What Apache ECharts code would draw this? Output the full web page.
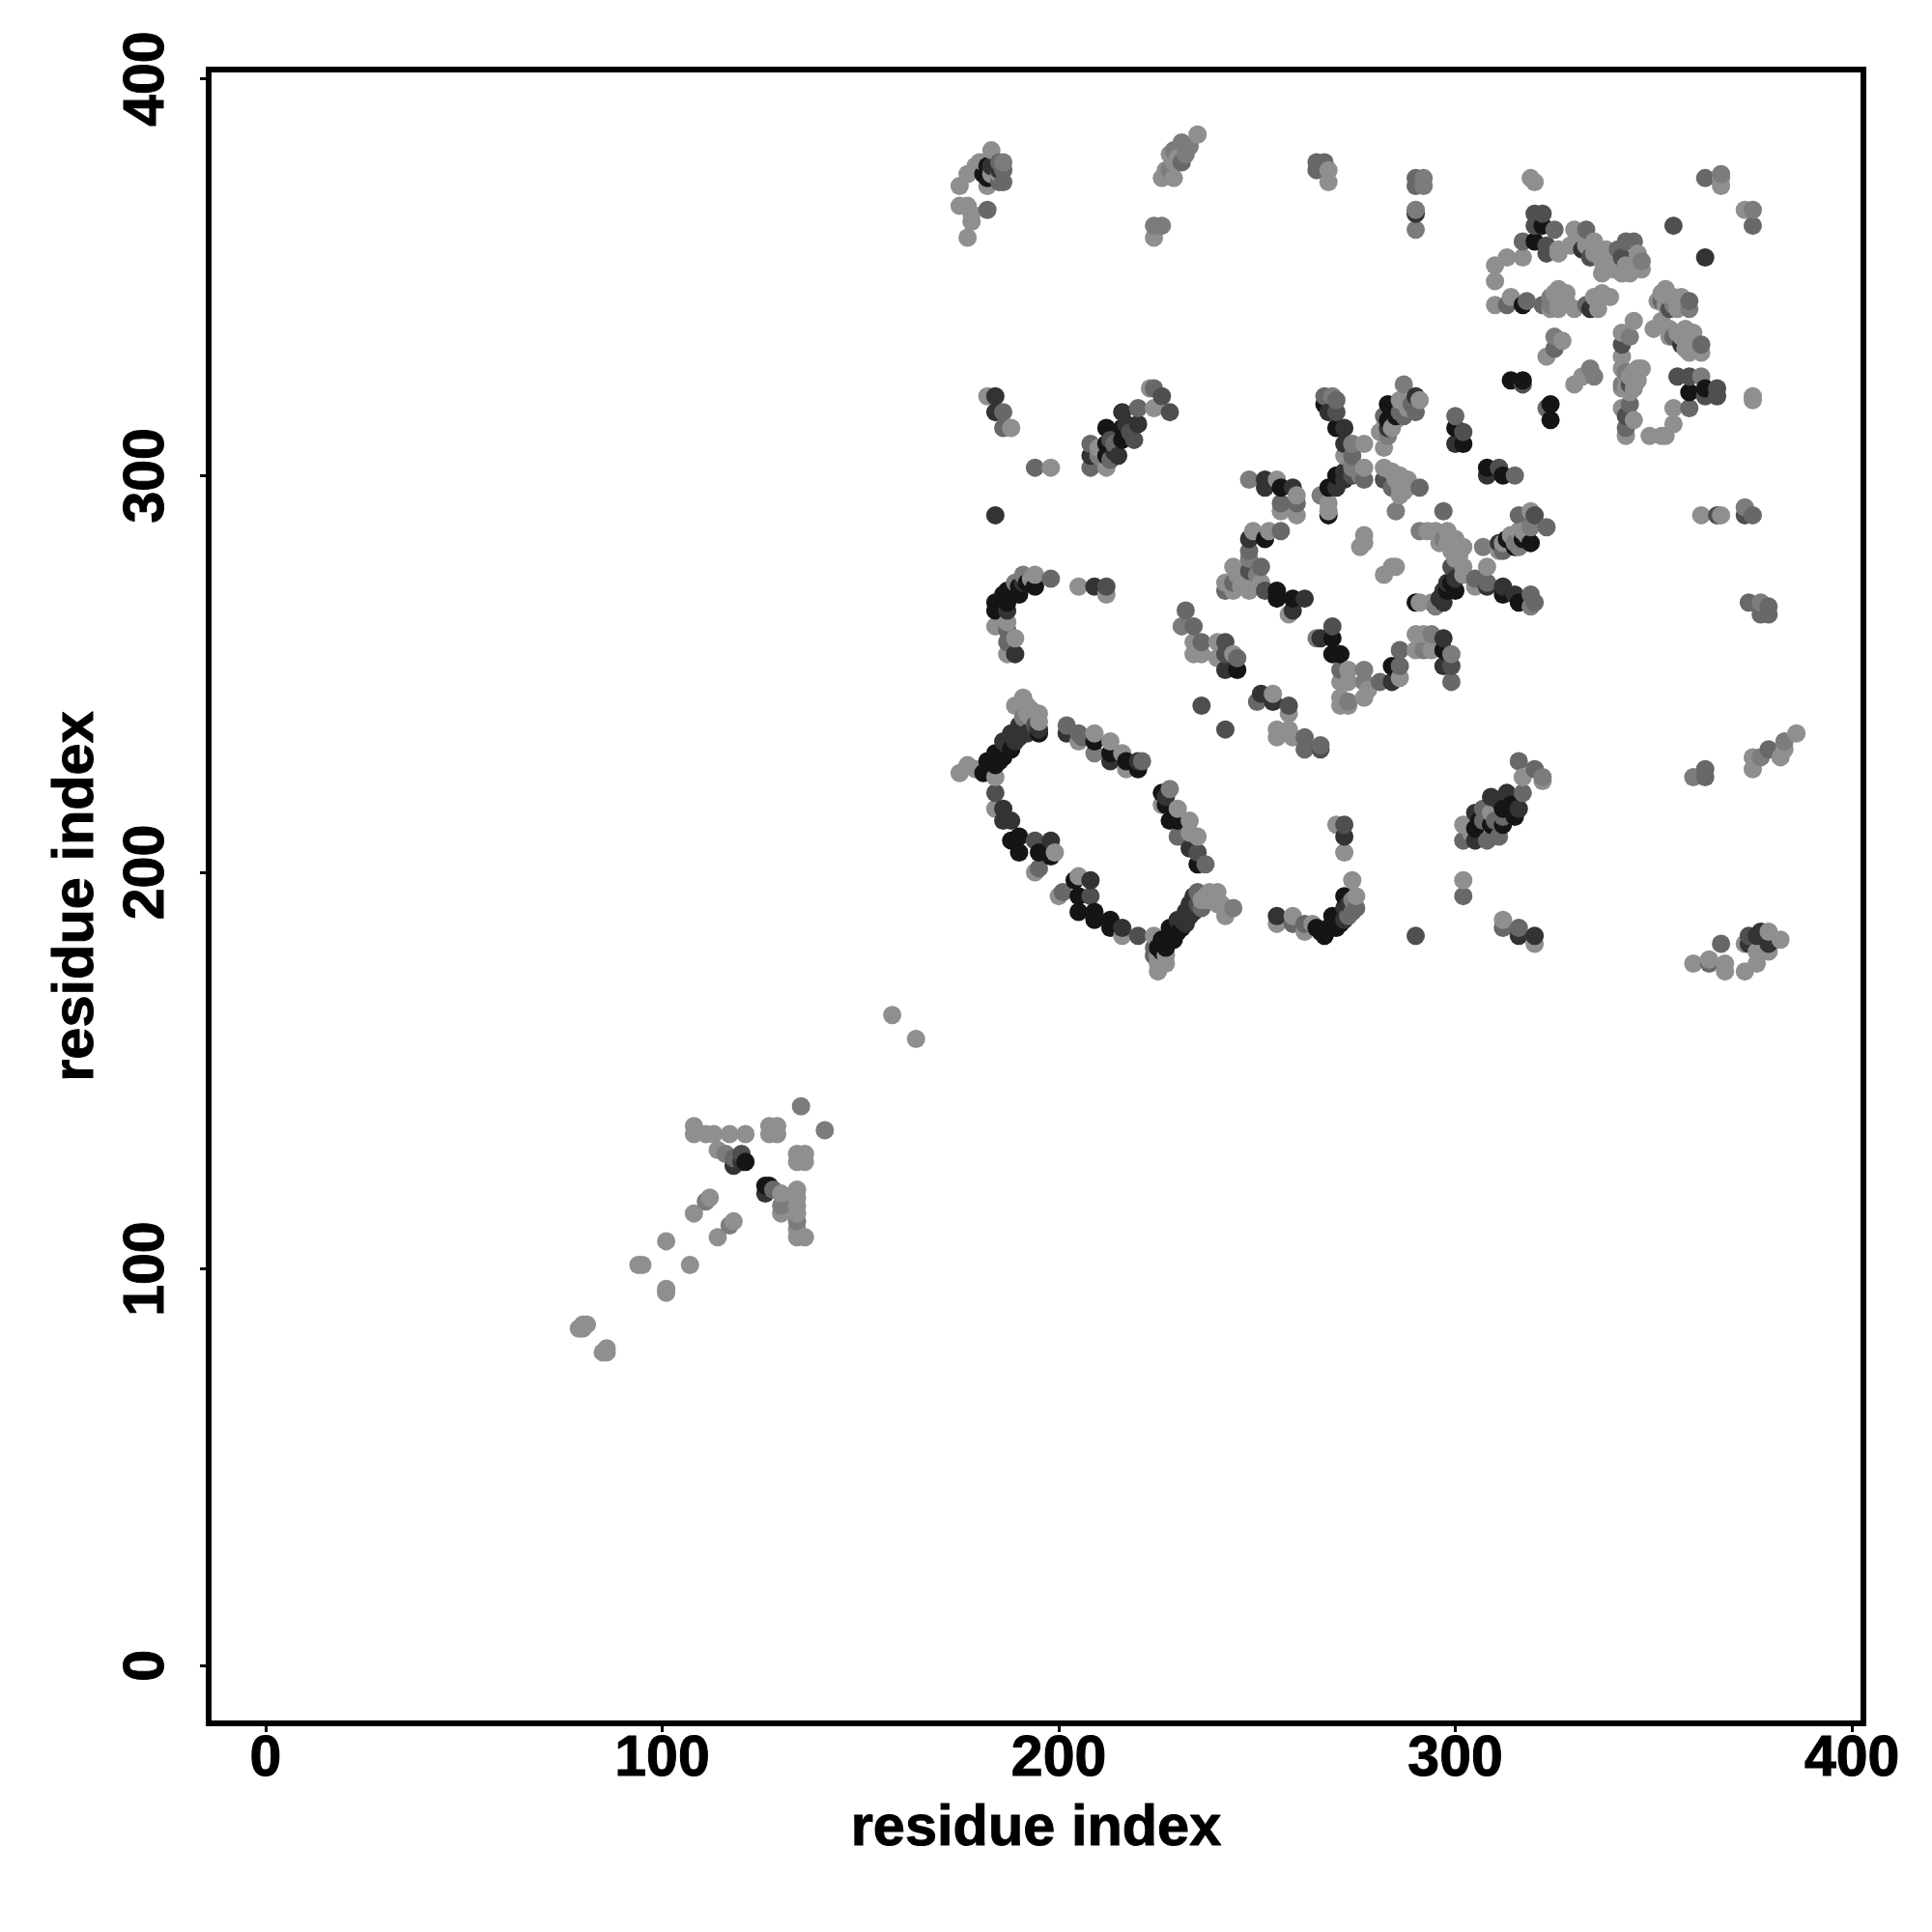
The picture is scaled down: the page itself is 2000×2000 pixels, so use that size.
<!DOCTYPE html>
<html><head><meta charset="utf-8">
<style>html,body{margin:0;padding:0;background:#fff}#c{width:2000px;height:2000px}</style>
<script src="https://cdn.jsdelivr.net/npm/echarts@6/dist/echarts.min.js"></script>
</head><body><div id="c"></div>
<script>
const tickValues = [0,100,200,300,400];
const axisName = "residue index";
// each contact: [residue i, residue j, strength] strength 1 (weak) .. 6 (strong)
const arrowCluster = [[158,164,1],[164,158,1],[135,141,2],[141,135,2],[108,136,1],[108,134,1],[111,134,1],[113,134,1],[117,134,1],[121,134,1],[127,136,1],[129,136,1],[127,134,1],[129,134,1],[134,129,1],[136,129,1],[134,127,1],[136,127,1],[114,130,1],[116,129,2],[118,128,3],[120,129,4],[120,127,5],[121,127,6],[118,126,5],[127,121,6],[126,119,5],[128,120,3],[130,119,1],[130,116,2],[130,114,1],[134,120,1],[134,118,1],[134,116,1],[134,114,1],[134,112,2],[134,110,1],[134,108,1],[136,108,1],[126,121,6],[112,118,1],[111,117,2],[108,114,1],[118,112,1],[117,111,2],[114,108,1],[101,107,1],[94,101,1],[95,101,1],[107,101,1],[101,95,1],[101,94,1],[80,86,1],[79,85,1],[81,86,1],[80,85,1],[86,80,1],[85,79,1],[86,79,1]];
const ringLeft = [[175,225,1],[177,227,1],[179,226,1],[181,225,6],[182,228,6],[184,227,6],[184,230,6],[186,229,6],[186,233,5],[188,231,6],[188,235,5],[190,234,5],[190,237,5],[195,236,5],[195,235,6],[192,235,5],[191,244,1],[189,242,1],[192,242,1],[193,241,1],[195,240,1],[195,238,1],[194,237,4],[191,239,2],[184,224,1],[184,220,4],[184,216,1],[186,216,5],[188,213,5],[186,213,5],[188,208,6],[190,209,6],[190,205,6],[194,208,4],[198,208,5],[195,205,6],[198,204,6],[199,205,1],[194,200,1],[195,201,3],[183,227,6],[185,228,6],[187,232,5],[189,233,5],[186,231,6],[191,236,5],[193,236,5],[193,239,1],[192,240,1]];
const ringRight = [[202,237,3],[202,235,5],[205,235,3],[206,234,3],[205,233,1],[209,235,1],[209,230,2],[209,233,6],[213,233,1],[213,230,6],[213,228,5],[216,230,1],[217,228,6],[217,226,1],[220,226,6],[220,228,5],[221,228,3],[226,220,6],[228,221,2],[227,219,5],[226,217,1],[227,217,6],[228,213,6],[230,213,6],[230,216,1],[233,213,1],[230,209,3],[233,210,1],[235,209,1],[233,206,5],[235,205,4],[235,202,6],[237,202,3]];
const ringBottom = [[205,199,1],[204,198,6],[208,198,5],[205,194,6],[208,194,4],[201,195,3],[200,194,1],[205,190,6],[209,190,6],[209,188,6],[213,188,6],[213,186,6],[216,186,5],[216,184,1],[220,184,4],[225,175,1],[225,177,1],[227,177,1],[224,179,3],[224,181,3],[224,184,1],[225,181,6],[227,181,6],[226,183,6],[229,183,6],[228,186,6],[231,186,6],[230,188,5],[232,187,5],[232,190,5],[234,190,5],[234,194,5],[236,191,3],[235,195,3],[240,195,1],[238,195,1],[238,193,1],[241,192,1],[242,189,1],[244,191,2],[226,180,6],[228,183,6],[229,185,6],[230,185,6],[231,188,5],[233,189,5],[233,192,5],[235,192,4],[236,193,1],[237,194,1],[239,193,1],[240,192,1],[225,179,1],[227,179,1]];
const hookCluster = [[255,189,5],[255,187,1],[259,189,1],[259,187,3],[262,187,3],[262,185,1],[264,187,1],[265,186,6],[267,184,6],[268,186,6],[269,189,6],[270,186,6],[271,189,6],[272,194,6],[272,191,5],[273,189,3],[275,191,3],[275,194,1],[274,198,1],[272,212,4],[270,212,1],[272,209,5],[272,205,1],[290,184,4],[302,198,1],[302,194,3],[312,188,1],[312,186,3],[316,186,3],[316,184,5],[320,184,5],[320,182,1],[266,185,6],[269,186,6],[271,187,6],[272,188,5],[273,192,5],[274,190,3],[274,193,2]];
const lowerDiagonal = [[302,212,1],[302,208,3],[305,208,5],[305,215,5],[305,211,6],[308,208,3],[309,219,5],[309,215,1],[309,212,6],[312,212,6],[312,214,3],[312,216,6],[313,220,5],[316,216,5],[317,220,3],[316,228,3],[317,224,1],[320,226,3],[322,224,2],[322,223,1],[306,213,6],[307,213,3],[307,216,3],[310,213,3],[311,218,5],[314,217,6],[315,214,6],[311,209,3],[304,210,1]];
const lowerRight = [[360,224,2],[363,226,3],[363,224,3],[386,235,1],[383,233,2],[379,231,3],[382,229,1],[375,229,1],[375,226,1],[377,229,2],[383,231,1],[360,177,1],[364,178,1],[364,177,3],[367,182,3],[368,177,1],[368,175,1],[373,182,1],[373,175,1],[376,177,1],[374,184,4],[374,182,5],[376,184,5],[379,184,5],[379,182,5],[379,185,1],[382,183,1],[379,180,1],[376,180,1],[377,185,5],[374,268,3],[377,268,2],[379,267,3],[377,265,3],[379,265,3],[362,290,1],[366,290,4],[367,290,1],[373,292,2],[373,290,4],[375,290,3],[375,320,1],[375,319,1]];
const topLeftCluster = [[183,382,1],[180,379,1],[177,376,1],[175,373,1],[185,379,3],[185,377,5],[185,374,3],[182,378,6],[182,375,6],[182,373,1],[175,368,1],[177,368,1],[178,366,1],[178,364,1],[177,360,1],[182,367,3],[235,386,1],[233,383,2],[229,382,2],[231,379,3],[229,379,1],[227,377,1],[229,375,1],[226,375,1],[224,363,2],[226,363,2],[224,360,1],[265,379,3],[267,379,3],[265,377,3],[268,377,1],[268,374,1],[186,377,3],[186,374,3],[183,378,5],[181,376,6],[179,378,1],[181,379,1],[183,376,1],[185,376,1],[186,379,2],[228,381,1],[230,380,1],[232,381,2],[231,384,2],[228,377,2]];
const upperLeftGroup = [[182,320,1],[184,320,5],[184,316,5],[186,316,3],[186,312,3],[188,312,1],[194,302,3],[198,302,1],[184,290,5],[208,308,3],[208,305,5],[208,302,3],[212,312,6],[212,308,6],[212,302,1],[212,305,6],[216,316,5],[216,312,6],[216,309,6],[215,305,5],[220,317,3],[220,313,5],[219,309,4],[214,308,3],[211,307,1],[223,322,1],[224,322,3],[226,320,4],[224,317,1],[228,316,4],[213,309,4],[214,306,5],[217,310,6],[217,313,5],[218,311,4],[210,305,2],[210,307,1],[213,304,3]];
const strandLeft = [[198,274,3],[205,272,1],[209,272,5],[212,272,4],[212,270,1],[194,275,1],[191,275,2],[194,272,6],[191,273,5],[189,273,2],[190,270,6],[188,271,6],[187,268,6],[184,268,6],[186,270,6],[184,266,6],[187,266,5],[187,263,1],[184,262,1],[187,261,3],[189,259,1],[187,258,3],[187,255,1],[189,255,5],[185,268,6],[186,268,6],[187,271,6],[189,271,6],[190,272,6],[192,273,6],[193,274,1]];
const flowerWest = [[248,299,2],[252,299,5],[252,297,5],[255,299,1],[256,297,6],[259,297,5],[256,293,3],[256,291,1],[260,295,1],[260,293,3],[260,290,1],[256,286,3],[253,286,1],[252,284,6],[249,286,1],[248,284,5],[248,281,3],[248,279,2],[248,276,4],[244,277,1],[251,277,3],[244,273,3],[242,273,1],[242,271,3],[244,271,1],[248,273,1],[248,271,1],[251,273,1],[252,271,4],[255,271,6],[255,269,6],[259,269,6],[262,269,5],[259,266,5],[258,265,1],[247,275,1],[245,275,1],[246,272,1],[250,275,2],[250,272,1]];
const strandDiagonal = [[232,266,3],[231,262,2],[234,262,3],[234,258,1],[236,258,3],[234,255,1],[236,255,1],[240,258,1],[242,258,4],[240,254,1],[242,255,4],[244,255,1],[245,254,3],[245,251,6],[242,251,5],[236,242,4],[242,236,4],[251,245,5],[250,243,3],[254,245,1],[254,243,5],[258,242,4],[258,240,1],[255,236,1],[255,234,1],[258,236,1],[259,234,1],[262,234,3],[262,231,3],[266,232,3],[266,231,4]];
const flowerSouth = [[265,259,2],[266,259,5],[269,262,4],[269,259,6],[269,255,6],[271,255,6],[271,251,3],[273,251,1],[271,248,1],[273,248,1],[271,244,1],[271,242,1],[273,243,2],[273,242,1],[277,251,2],[277,248,2],[277,244,1],[281,248,3],[284,248,5],[284,252,6],[286,256,3],[286,252,3],[286,249,1],[278,246,1],[290,260,1],[292,260,1],[294,260,2],[290,256,1],[292,256,2],[294,256,1],[297,259,5],[297,256,6],[299,255,2],[297,252,5],[299,252,4],[299,248,3]];
const flowerNorth = [[267,320,3],[269,320,2],[267,318,6],[270,319,3],[268,316,5],[270,316,4],[270,312,6],[272,312,5],[272,308,5],[274,308,2],[277,308,1],[274,305,3],[272,305,1],[274,302,2],[270,300,6],[272,301,5],[268,297,6],[270,297,5],[272,299,5],[274,300,4],[277,299,3],[277,302,1],[266,295,2],[268,293,1],[268,291,1],[268,290,6],[287,323,2],[291,319,1],[290,320,5],[286,319,1],[285,318,6],[283,318,6],[290,316,3],[287,315,3],[285,315,6],[282,315,3],[283,314,6],[285,314,1],[281,311,1],[283,312,5],[283,310,2],[282,307,1],[282,302,1],[284,301,1],[286,300,1],[291,297,3],[282,299,4],[284,297,3],[286,297,1],[286,295,1],[285,291,2],[277,285,1],[276,282,1],[277,283,1],[285,277,1],[282,275,1],[284,277,1],[288,299,1],[288,297,1],[287,298,1],[285,299,1],[287,296,1],[274,303,2],[276,300,2],[284,316,6],[286,316,3],[288,317,1],[289,318,3],[284,312,1],[282,312,1]];
const flowerEast = [[297,291,3],[291,286,2],[295,286,1],[298,286,1],[297,284,2],[300,284,1],[302,282,1],[299,277,4],[302,277,1],[298,271,6],[300,271,6],[297,268,5],[297,271,5],[300,274,5],[302,275,1],[305,274,3],[305,272,1],[308,277,1],[308,273,3],[308,272,5],[290,268,6],[291,268,1],[294,268,1],[295,267,2],[312,272,5],[312,270,6],[315,270,5],[316,268,6],[319,270,3],[320,268,3],[319,267,2],[307,282,2],[311,283,5],[311,281,1],[315,283,2],[315,282,6],[316,286,1],[319,283,6],[318,285,1],[319,287,2],[316,290,3],[319,291,1],[320,290,4],[323,287,3],[300,315,3],[300,312,6],[302,311,4],[300,308,5],[302,308,6],[308,302,6],[308,300,5],[311,302,4],[312,300,6],[315,300,3],[314,324,6],[317,324,6],[317,323,4],[324,318,6],[323,317,3],[324,314,6],[296,283,1],[298,283,1],[299,281,1],[300,279,1],[301,280,1],[293,286,1],[296,285,1],[299,273,6],[298,273,5],[296,269,5],[313,284,6],[312,283,1],[314,285,1],[317,284,6],[317,286,1],[316,282,2],[312,281,3]];
const topRightNorth = [[290,375,3],[292,375,2],[290,373,3],[292,373,2],[290,367,2],[290,366,5],[290,362,2],[319,375,1],[320,374,1],[363,375,3],[367,376,2],[367,375,1],[367,373,1],[373,367,1],[375,367,2],[375,363,3],[355,363,4],[363,355,5],[320,366,4],[322,366,4],[320,363,4],[322,363,6],[325,362,3],[317,359,3],[320,359,6],[323,358,4],[326,357,1],[326,356,1],[323,356,4],[330,362,1],[333,362,3],[329,358,1],[332,357,5],[335,359,1],[334,355,4],[338,357,1],[337,354,1],[337,351,1],[343,359,3],[345,359,3],[342,355,4],[342,351,1],[344,351,1],[346,356,1],[347,354,2],[345,352,1],[341,357,3],[331,360,1],[333,358,1],[335,356,1],[337,355,1],[339,353,1],[340,352,1],[346,353,1],[347,352,1],[343,353,1]];
const topRightBand = [[317,355,1],[313,355,1],[310,353,1],[310,349,1],[310,343,1],[314,345,1],[313,343,3],[317,343,6],[318,344,3],[322,343,3],[324,345,2],[326,347,1],[328,346,1],[324,342,1],[326,342,1],[330,342,1],[333,343,3],[334,342,5],[336,342,1],[335,345,1],[339,345,1],[337,346,1],[351,344,1],[353,347,1],[352,344,3],[355,345,1],[354,342,4],[356,342,1],[359,344,3],[359,342,2],[352,346,1],[354,345,1],[356,344,1],[353,343,1],[355,343,2],[357,345,1],[326,344,1],[324,343,2],[325,346,1],[327,344,1],[328,344,1]];
const topRightSouth = [[345,339,1],[350,337,1],[354,337,1],[355,335,3],[358,337,1],[357,333,5],[358,332,1],[362,333,3],[362,331,1],[342,336,1],[342,333,4],[344,335,2],[342,330,1],[323,330,1],[325,335,2],[327,334,1],[325,332,3],[334,327,2],[335,325,2],[330,323,1],[332,325,1],[346,327,1],[347,327,1],[344,325,1],[342,327,1],[342,323,2],[344,323,4],[342,322,1],[344,318,3],[342,317,1],[345,314,1],[343,315,4],[343,310,1],[343,312,3],[355,317,1],[355,313,1],[349,310,1],[352,310,1],[353,310,1],[356,325,4],[359,325,4],[362,325,2],[359,321,6],[363,322,6],[366,322,4],[363,320,4],[366,320,4],[359,317,3],[352,339,1],[354,335,1],[356,336,1],[357,335,1],[358,334,1],[360,336,1],[360,334,1],[359,331,1],[343,325,1],[345,326,1],[343,322,1],[344,321,1],[346,324,1],[345,322,1],[343,326,2]];

const strengthGray = ['#8f8f8f','#7c7c7c','#686868','#4f4f4f','#333333','#151515'];
const contacts = [].concat(arrowCluster,ringLeft,ringRight,ringBottom,hookCluster,lowerDiagonal,lowerRight,topLeftCluster,upperLeftGroup,strandLeft,flowerWest,strandDiagonal,flowerSouth,flowerNorth,flowerEast,topRightNorth,topRightBand,topRightSouth)
  .sort((a,b)=>a[0]-b[0]||a[1]-b[1]);

const font = '"Liberation Sans", Arial, sans-serif';
const chart = echarts.init(document.getElementById('c'),null,{renderer:'canvas'});
const boldText = {fontFamily:font,fontWeight:'bold',color:'#000',textBorderColor:'#000',textBorderWidth:1};
function axis(min,max,extra){
  return Object.assign({
    type:'value',min:min,max:max,splitLine:{show:false},
    name:axisName,nameLocation:'middle',
    nameTextStyle:Object.assign({fontSize:59.5},boldText),
    axisLine:{show:true,onZero:false,lineStyle:{color:'#000',width:6}},
    axisTick:{show:true,length:9,lineStyle:{color:'#000',width:3},customValues:tickValues},
  },extra);
}
chart.setOption({
  animation:false,backgroundColor:'#fff',
  grid:{left:216,top:72,width:1713,height:1712,show:true,borderColor:'#000',borderWidth:6,backgroundColor:'#fff',containLabel:false},
  xAxis:axis(-14.37,402.9,{nameGap:80,
    axisLabel:Object.assign({customValues:tickValues,margin:8,fontSize:59},boldText)}),
  yAxis:axis(-14.54,402.36,{nameGap:106,
    axisLabel:Object.assign({customValues:tickValues,rotate:90,margin:34,fontSize:59},boldText)}),
  series:[{type:'scatter',symbol:'circle',symbolSize:19,data:contacts,large:false,
    itemStyle:{opacity:1,color:p=>strengthGray[p.value[2]-1]},emphasis:{disabled:true}}]
});
</script></body></html>
